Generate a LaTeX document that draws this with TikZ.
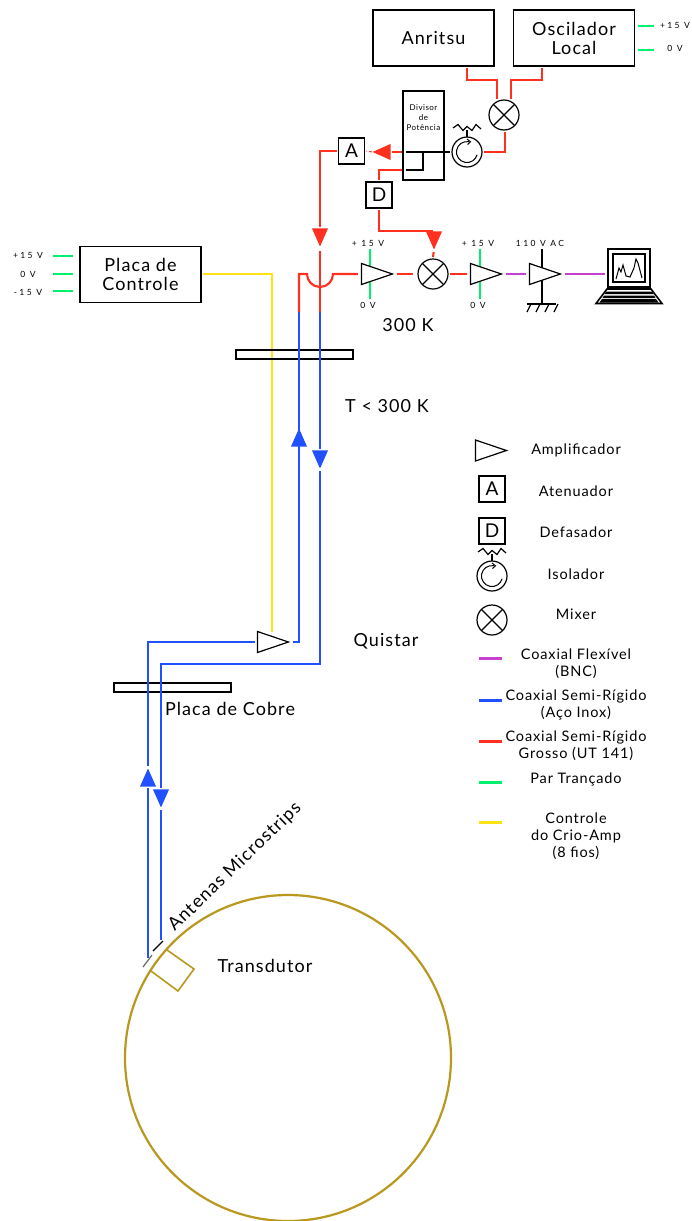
\documentclass[tikz,border=0pt]{standalone}
\usepackage{fontspec}
\setmainfont{Lato}[LetterSpace=6]
\usetikzlibrary{shapes.geometric,positioning,calc}
\definecolor{coaxred}{RGB}{255,48,32}
\definecolor{coaxblue}{RGB}{32,80,255}
\definecolor{coaxpurple}{RGB}{200,64,210}
\definecolor{pairgreen}{RGB}{0,240,110}
\definecolor{ctrlyellow}{RGB}{255,226,20}
\definecolor{gold}{RGB}{184,152,30}
\newcommand{\isodetail}[1]{%
  \begin{scope}[shift={(#1)}]
    \draw[line width=1.2pt] (0,15) -- (0,22);
    \draw[line width=1.2pt] (-14,24) -- (-9,27.5) -- (-4,21.5) -- (0,25.5) -- (5,21.5) -- (9,27.5) -- (14,23);
    \draw[line width=1pt] (1.8,10.3) arc (80:345:10.5);
    \draw[line width=1pt] (0,13) -- (3.5,10.2) -- (0.5,7.5);
  \end{scope}}
\begin{document}
\begin{tikzpicture}
  [
    x=1pt, y=1pt,
    Box/.style={rectangle, draw=black, line width=1.4pt, inner sep=0pt, align=center, outer sep=2pt},
    Big/.style={Box, minimum width=121pt, minimum height=56pt, font=\fontsize{18}{19}\selectfont},
    Small/.style={Box, minimum size=26pt, font=\fontsize{19}{19}\selectfont},
    Plate/.style={rectangle, draw=black, line width=1.4pt, minimum width=117pt, minimum height=9pt, inner sep=0pt},
    Amp/.style={isosceles triangle, isosceles triangle stretches, anchor=apex, draw=black, line width=1.2pt, fill=white, minimum width=21pt, minimum height=31pt, inner sep=0pt},
    Mixer/.style={circle, draw=black, line width=1.2pt, minimum size=30pt, inner sep=0pt, outer sep=2pt,
      path picture={\draw[line width=1.2pt] (path picture bounding box.north west) -- (path picture bounding box.south east)
        (path picture bounding box.south west) -- (path picture bounding box.north east);}},
    Isolator/.style={circle, draw=black, line width=1.2pt, minimum size=30pt, inner sep=0pt, outer sep=2pt},
    ArrDown/.style={isosceles triangle, isosceles triangle stretches, anchor=apex, minimum width=16pt, minimum height=18pt, inner sep=0pt, shape border rotate=-90},
    ArrUp/.style={ArrDown, shape border rotate=90},
    ArrLeft/.style={ArrDown, shape border rotate=180},
    Lab/.style={inner sep=0pt, align=center, font=\fontsize{18}{20}\selectfont},
    Txt/.style={inner sep=0pt, align=center, font=\fontsize{14.5}{17}\selectfont},
    Volt/.style={inner sep=0pt, font=\fontsize{8.5}{10}\selectfont\addfontfeature{LetterSpace=28}},
    Gap/.style={shorten <=3pt, shorten >=3pt},
    Red/.style={draw=coaxred, line width=2.1pt},
    Blue/.style={draw=coaxblue, line width=2.1pt},
    Purple/.style={draw=coaxpurple, line width=2.1pt},
    Green/.style={draw=pairgreen, line width=2.1pt},
    Yellow/.style={draw=ctrlyellow, line width=2pt},
    Legend/.style={line width=3pt}
  ]
  \useasboundingbox (0,0) rectangle (691,-1221);
  % Points on the lines
  \coordinate (anr) at(467,-68);
  \coordinate (osc) at(542,-68);
  \coordinate (mixA) at(497,-99);
  \coordinate (mixB) at(511,-99);
  \coordinate (mixC) at(505,-132);
  \coordinate (divA) at(402,-152);
  \coordinate (divB) at(402,-170);
  \coordinate (divC) at(406,-152);
  \coordinate (divD) at(406,-170);
  \coordinate (divE) at(423,-152);
  \coordinate (sw) at(299,-312);
  \coordinate (se) at(320,-312);
  \coordinate (humpL) at(307,-274);
  \coordinate (quiOut) at(299,-642);
  \coordinate (quiCtrl) at(272,-632);
  \coordinate (coldA) at(148,-958);
  \coordinate (coldB) at(161,-940);
  \coordinate (bendR) at(320,-664);
  \coordinate (ctrlOut) at(203,-274);
  \coordinate (gnd) at(542,-304);
  % Twisted pair behind the amplifiers
  \draw[Green] (370,-249) -- (370,-299);
  \draw[Green] (480,-249) -- (480,-299);
  \draw[line width=1.2pt] (542,-249) -- (gnd);
  \draw[Yellow] (ctrlOut) -| (quiCtrl);
  % Nodes
  \node[Big] (anritsu) at(433.5,-38) {Anritsu};
  \node[Big] (oscilador) at(574,-38) {Oscilador\\Local};
  \node[Big] (controle) at(140.5,-274.5) {Placa de\\Controle};
  \node[Mixer] (mixtop) at(504,-115) {};
  \node[Isolator] (isotop) at(467,-152) {};
  \node[Box, line width=1.2pt, minimum width=41pt, minimum height=89pt] (divisor) at(423.5,-135.5) {};
  \node[inner sep=0pt, align=center, font=\fontsize{8}{10}\selectfont] (divlabel) at(423.5,-118) {Divisor\\de\\Potência};
  \node[Small] (atten) at(351.5,-151) {A};
  \node[Small] (defas) at(379,-195) {D};
  \node[ArrLeft, fill=coaxred] (arrA) at(372,-152) {};
  \node[ArrDown, fill=coaxred] (arrmain) at(320,-247) {};
  \node[ArrDown, fill=coaxred] (arrlo) at(434,-250) {};
  \node[Amp] (amp1) at(394,-274) {};
  \node[Mixer] (mixmid) at(433,-274) {};
  \node[Amp] (amp2) at(503,-274) {};
  \node[Amp] (amp3) at(562,-274) {};
  \node[minimum width=44pt, minimum height=26pt, inner sep=0pt, outer sep=2pt] (laptop) at(629,-274) {};
  \node[Amp] (quistar) at(290,-642) {};
  \node[ArrUp, fill=coaxblue] (arrup1) at(299,-428) {};
  \node[ArrDown, fill=coaxblue] (arrdn1) at(320,-469) {};
  \node[ArrUp, fill=coaxblue] (arrup2) at(148,-768) {};
  \node[ArrDown, fill=coaxblue] (arrdn2) at(161,-808) {};
  \node[Plate] (plate300) at(294.5,-354.5) {};
  \node[Plate] (platecu) at(172.5,-687.5) {};
  \node[circle, draw=gold, line width=2.2pt, minimum size=326pt, inner sep=0pt] (transdutor) at(288,-1058) {};
  % Labels
  \node[Lab] (l300) at(408,-325) {300 K};
  \node[Lab] (ltemp) at(387,-406) {T < 300 K};
  \node[Lab] (lquistar) at(386,-641) {Quistar};
  \node[Lab] (lcobre) at(230,-709) {Placa de Cobre};
  \node[Lab] (ltrans) at(265,-966) {Transdutor};
  \node[Lab, rotate=44] (lantena) at(235,-867) {Antenas Microstrips};
  \node[Volt] (vo1) at(675,-25) {+15 V};
  \node[Volt] (vo2) at(675,-48) {0 V};
  \node[Volt] (vc1) at(28,-255) {+15 V};
  \node[Volt] (vc2) at(28,-274) {0 V};
  \node[Volt] (vc3) at(28,-292) {-15 V};
  \node[Volt] (va1) at(368,-243) {+ 15 V};
  \node[Volt] (va2) at(368,-305) {0 V};
  \node[Volt] (vb1) at(478,-243) {+ 15 V};
  \node[Volt] (vb2) at(478,-305) {0 V};
  \node[Volt] (vac) at(540,-243) {110 V AC};
  % Lines
  \draw[Red] (anr) -- ++(0,-12) -| (mixA);
  \draw[Red] (osc) -- ++(0,-12) -| (mixB);
  \draw[Red] (mixC) |- (isotop.east);
  \draw[line width=1.4pt] (divC) -- (isotop.west);
  \draw[line width=1.4pt] (divE) |- (divD);
  \draw[Red, shorten >=1pt] (divA) -- (arrA.lower side);
  \draw[Red, densely dashed, line width=1pt] (arrA.apex) -- (atten.east);
  \draw[Red, shorten >=1pt] (atten.west) -| (arrmain.lower side);
  \draw[Red] (defas.north) |- (divB);
  \draw[Red, shorten >=1pt] (defas.south) |- (arrlo.lower side);
  \draw[Red, shorten <=2pt] (arrlo.apex) -- (mixmid.north);
  \draw[Red, shorten <=4pt] (arrmain.apex) -- (se);
  \draw[Red, shorten >=3pt] (sw) |- (humpL) arc (180:360:13) -- (amp1.lower side);
  \draw[Red, Gap] (amp1.apex) -- (mixmid.west);
  \draw[Red, shorten >=3pt] (mixmid.east) -- (amp2.lower side);
  \draw[Purple, Gap] (amp2.apex) -- (amp3.lower side);
  \draw[Purple, shorten <=3pt] (amp3.apex) -- (laptop.west);
  \draw[line width=1.4pt] (527,-304) -- (556,-304);
  \foreach \gx in {531,540,549,558} {
    \draw[line width=1.2pt] (\gx,-304) -- ++(-4,-8);
  }
  \foreach \vy in {-26,-50} {
    \draw[Green] (638,\vy) -- (654,\vy);
  }
  \foreach \vy in {-256,-274,-291} {
    \draw[Green] (53,\vy) -- (73,\vy);
  }
  \draw[Blue, shorten >=1pt] (sw) -- (arrup1.lower side);
  \draw[Blue, shorten <=3pt, shorten >=2pt] (quistar.apex) -- (quiOut) -- (arrup1.apex);
  \draw[Blue, shorten >=1pt] (se) -- (arrdn1.lower side);
  \draw[Blue, shorten <=2pt, shorten >=1pt] (arrdn1.apex) -- (bendR) -| (arrdn2.lower side);
  \draw[Blue, shorten <=2pt, shorten >=2pt] (quistar.lower side) -| (arrup2.apex);
  \draw[Blue, shorten <=1pt] (arrup2.lower side) -- (coldA);
  \draw[Blue, shorten <=2pt] (arrdn2.apex) -- (coldB);
  % Antennas and patch
  \draw[line width=1.2pt] (153,-951) -- (163,-941);
  \draw[line width=1.2pt, black!60] (143,-967) -- (152,-955);
  \draw[gold, line width=1.6pt] (167,-950) -- (194,-969) -- (178,-991) -- (151,-971);
  % Laptop
  \draw[line width=2.4pt] (608,-249) rectangle (650,-287);
  \draw[line width=1.6pt] (613,-254) rectangle (645,-282);
  \draw[line width=1pt] (616,-279) -- (619,-268) -- (621,-272) -- (623,-265) -- (626,-276) -- (630,-277) -- (634,-268) -- (636,-259) -- (638,-263) -- (642,-278);
  \draw[line width=1.6pt, fill=white] (607,-289) -- (651,-289) -- (662,-303.5) -- (596,-303.5) -- cycle;
  \fill (606,-291.5) -- (652,-291.5) -- (653.5,-294) -- (604.5,-294) -- cycle;
  \fill (604,-295.5) -- (654,-295.5) -- (655.5,-298) -- (602.5,-298) -- cycle;
  \fill (602,-299) -- (656,-299) -- (658.5,-302.5) -- (599.5,-302.5) -- cycle;
  % Key
  \node[Amp] (keyamp) at(508,-450.5) {};
  \node[Small] (keyatt) at(492,-489) {A};
  \node[Small] (keydef) at(492,-531) {D};
  \node[Isolator] (keyiso) at(492,-576) {};
  \node[Mixer] (keymix) at(492,-620) {};
  \node[Txt] (tamp) at(576,-450) {Amplificador};
  \node[Txt] (tatt) at(576,-491) {Atenuador};
  \node[Txt] (tdef) at(576,-532) {Defasador};
  \node[Txt] (tiso) at(576,-574) {Isolador};
  \node[Txt] (tmix) at(576,-614) {Mixer};
  \node[Txt] (tbnc) at(576,-663.5) {Coaxial Flexível\\(BNC)};
  \node[Txt] (tinox) at(576,-704.5) {Coaxial Semi-Rígido\\(Aço Inox)};
  \node[Txt] (tut) at(576,-745.5) {Coaxial Semi-Rígido\\Grosso (UT 141)};
  \node[Txt] (tpar) at(576,-779) {Par Trançado};
  \node[Txt] (tcrio) at(576,-836) {Controle\\do Crio-Amp\\(8 fios)};
  \draw[coaxpurple, Legend] (479,-658) -- (502,-658);
  \draw[coaxblue, Legend] (479,-700) -- (502,-700);
  \draw[coaxred, Legend] (479,-741) -- (502,-741);
  \draw[pairgreen, Legend] (479,-782) -- (502,-782);
  \draw[ctrlyellow, Legend] (479,-822) -- (502,-822);
  \isodetail{isotop.center}
  \isodetail{keyiso.center}
\end{tikzpicture}
\end{document}
